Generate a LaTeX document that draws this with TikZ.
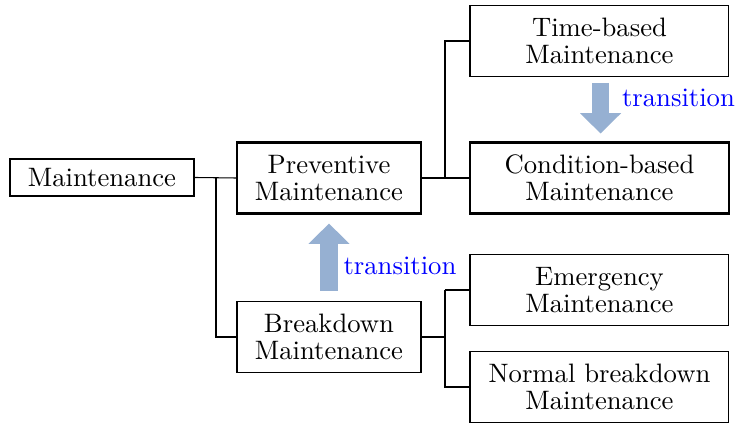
\documentclass[tikz,border=0pt]{standalone}
\usetikzlibrary{arrows.meta}
\definecolor{arrowcol}{RGB}{150,176,210}
\begin{document}
\begin{tikzpicture}[x=0.375pt,y=-0.375pt,
  box/.style={draw, line width=0.4pt, align=center, inner sep=0pt,
    font=\fontsize{10pt}{10pt}\selectfont},
  thickbox/.style={box, line width=0.8pt},
  narrow/.style={minimum width=69pt, minimum height=26.6pt},
  wide/.style={minimum width=97.1pt, minimum height=26.6pt},
  conn/.style={draw, line width=0.4pt},
  bigarrow/.style={draw=arrowcol, line width=6.6pt,
    -{Triangle[width=15.4pt, length=7.6pt, line width=0pt]}},
  lbl/.style={text=blue, inner sep=0pt, anchor=base west, font=\fontsize{10pt}{12pt}\selectfont}]
\useasboundingbox (0,0) rectangle (735,423);
\node[thickbox, minimum width=69pt, minimum height=13.9pt] (M) at (102,177.5) {Maintenance};
\node[thickbox, narrow] (P) at (329,178) {Preventive\\Maintenance};
\node[box, narrow] (B) at (329,337) {Breakdown\\Maintenance};
\node[box, wide] (T) at (599.5,41) {Time-based\\Maintenance};
\node[thickbox, wide] (C) at (599.5,178) {Condition-based\\Maintenance};
\node[box, wide] (E) at (599.5,290) {Emergency\\Maintenance};
\node[box, wide] (N) at (599.5,387) {Normal breakdown\\Maintenance};
\coordinate (j1) at (216,0);
\coordinate (j2) at (445,0);
\draw[conn] (M.east) -- (P.west);
\draw[conn] (j1 |- M.east) |- (B.west);
\draw[conn] (P.east) -- (C.west);
\draw[conn] (j2 |- C.west) |- (T.west);
\draw[conn] (B.east) -- (j2 |- B.east);
\draw[conn] (j2 |- E.west) -- (E.west);
\draw[conn] (j2 |- E.west) |- (N.west);
\draw[bigarrow] ([yshift=3.75pt]B.north) -- ([yshift=-3.4pt]P.south);
\draw[bigarrow] ([xshift=0.4pt,yshift=-2.25pt]T.south) -- ([xshift=0.4pt,yshift=3pt]C.north);
\node[lbl] (L1) at (343,275) {transition};
\node[lbl] (L2) at (621.5,107) {transition};
\end{tikzpicture}
\end{document}
